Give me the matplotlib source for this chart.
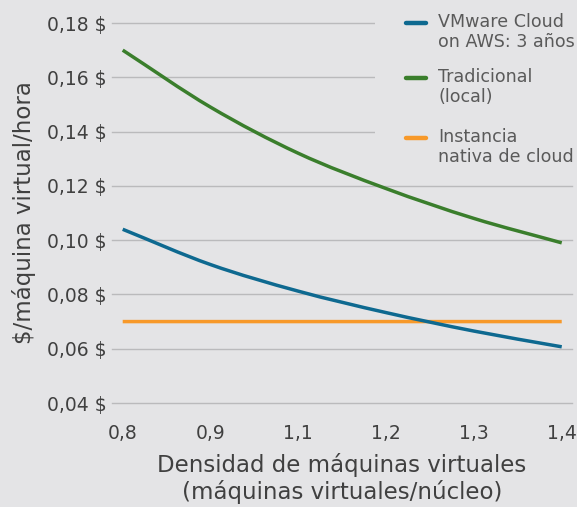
import matplotlib
matplotlib.use("Agg")
import matplotlib.pyplot as plt
from matplotlib.lines import Line2D
from matplotlib.patches import Rectangle, PathPatch
from matplotlib.path import Path

plt.rcParams['font.family'] = ['DejaVu Sans']

categories = ["0,8", "0,9", "1,1", "1,2", "1,3", "1,4"]
vmware = [0.104, 0.091, 0.0812, 0.0733, 0.0665, 0.0607]
tradicional = [0.170, 0.149, 0.132, 0.119, 0.108, 0.099]
nativa = [0.070, 0.070, 0.070, 0.070, 0.070, 0.070]
y_ticks = [0.04, 0.06, 0.08, 0.10, 0.12, 0.14, 0.16, 0.18]
y_labels = ["0,04 $", "0,06 $", "0,08 $", "0,10 $", "0,12 $", "0,14 $", "0,16 $", "0,18 $"]
legend_labels = ["VMware Cloud\non AWS: 3 años", "Tradicional\n(local)", "Instancia\nnativa de cloud"]

BG = "#e4e4e6"
TXT = "#404040"
C_BLUE = "#0e6990"
C_GREEN = "#3a7e2c"
C_ORANGE = "#f7992a"

W, H = 577, 507
fig = plt.figure(figsize=(W / 100, H / 100), dpi=100, facecolor=BG)
ax = fig.add_axes([112 / W, 1 - 403 / H, 460 / W, 380 / H], facecolor=BG)


def smooth_path(xs, ys):
    """Smoothed line (cubic Bezier through the data points, like a spreadsheet 'smoothed line')."""
    n = len(xs)
    tx, ty = [], []
    for i in range(n):
        a = max(i - 1, 0)
        b = min(i + 1, n - 1)
        k = (b - a) if (b - a) > 0 else 1
        tx.append((xs[b] - xs[a]) / k)
        ty.append((ys[b] - ys[a]) / k)
    verts = [(xs[0], ys[0])]
    codes = [Path.MOVETO]
    for i in range(n - 1):
        verts += [(xs[i] + tx[i] / 3, ys[i] + ty[i] / 3),
                  (xs[i + 1] - tx[i + 1] / 3, ys[i + 1] - ty[i + 1] / 3),
                  (xs[i + 1], ys[i + 1])]
        codes += [Path.CURVE4] * 3
    return Path(verts, codes)


x = list(range(len(categories)))
for series, col, z in [(tradicional, C_GREEN, 3), (vmware, C_BLUE, 3), (nativa, C_ORANGE, 2.5)]:
    ax.add_patch(PathPatch(smooth_path(x, series), facecolor='none', edgecolor=col,
                           lw=2.5, capstyle='butt', zorder=z))

ax.set_xlim(-0.122, 5.117)
ax.set_ylim(0.04, 0.18)
ax.set_xticks(x)
ax.set_xticklabels(categories)
ax.set_yticks(y_ticks)
ax.set_yticklabels(y_labels)
ax.tick_params(axis='both', length=0, labelsize=13.5, colors=TXT)
ax.tick_params(axis='x', pad=15)
ax.tick_params(axis='y', pad=4)
ax.grid(axis='y', color="#bababc", lw=1.0)
for gl in ax.get_ygridlines():
    gl.set_clip_on(False)
ax.set_axisbelow(True)
for s in ax.spines.values():
    s.set_visible(False)

ax.set_xlabel("Densidad de máquinas virtuales\n(máquinas virtuales/núcleo)",
              fontsize=16.5, color=TXT, labelpad=7, linespacing=1.18)
ax.set_ylabel("$/máquina virtual/hora", fontsize=16.5, color=TXT, labelpad=8)

# legend area
fig.add_artist(Rectangle((375 / W, 1 - 175 / H), 202 / W, 175 / H,
                         transform=fig.transFigure, facecolor=BG, edgecolor='none', zorder=5))
colors = [C_BLUE, C_GREEN, C_ORANGE]
ys = [23, 78, 138]
for lab, c, yy in zip(legend_labels, colors, ys):
    fig.add_artist(Line2D([406 / W, 426 / W], [1 - yy / H, 1 - yy / H], transform=fig.transFigure,
                          color=c, lw=3.2, solid_capstyle='round', zorder=6))
    fig.text(438 / W, 1 - (yy - 10) / H, lab, ha='left', va='top', fontsize=12.6,
             color="#5a5a5a", linespacing=1.15, zorder=6)

fig.savefig("out.png", dpi=100, facecolor=BG)
